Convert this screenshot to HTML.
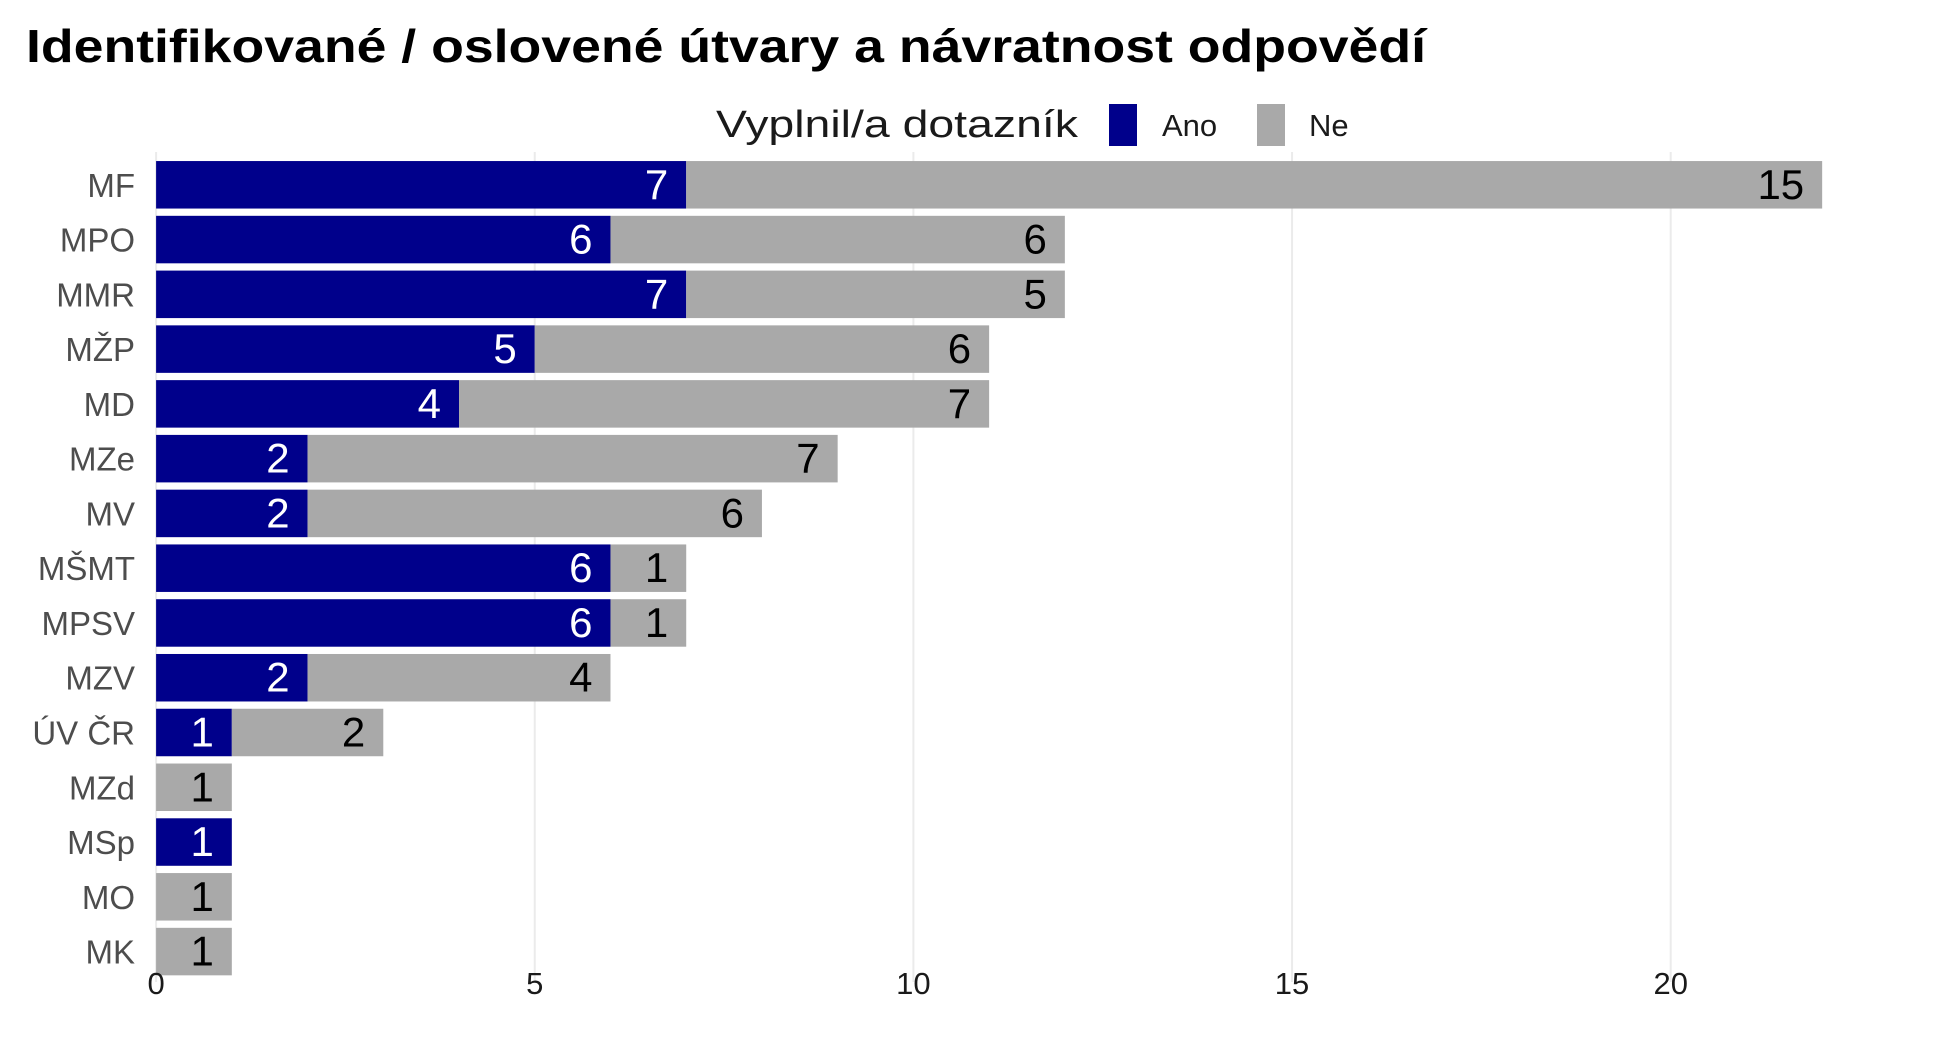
<!DOCTYPE html>
<html><head><meta charset="utf-8"><style>
body{margin:0;background:#fff;}
svg{display:block;font-family:"Liberation Sans",sans-serif;}
</style></head><body>
<svg id="chart" width="1948" height="1062" viewBox="0 0 1948 1062">
<text x="26" y="62" font-size="46" font-weight="bold" fill="#000" textLength="1400" lengthAdjust="spacingAndGlyphs">Identifikované / oslovené útvary a návratnost odpovědí</text>
<g>
<text x="716" y="137" font-size="38" fill="#1a1a1a" textLength="362" lengthAdjust="spacingAndGlyphs">Vyplnil/a dotazník</text>
<rect x="1109" y="104" width="28" height="42" fill="#00008b"/>
<text x="1162" y="136" font-size="31" fill="#1a1a1a">Ano</text>
<rect x="1257" y="104" width="28" height="42" fill="#a9a9a9"/>
<text x="1309" y="136" font-size="31" fill="#1a1a1a">Ne</text>
</g>
<g id="grid"></g><g id="bars"></g><g id="labels"></g>
</svg>
<script>
const categories=["MF","MPO","MMR","MŽP","MD","MZe","MV","MŠMT","MPSV","MZV","ÚV ČR","MZd","MSp","MO","MK"];
const anoValues=[7,6,7,5,4,2,2,6,6,2,1,0,1,0,0];
const neValues=[15,6,5,6,7,7,6,1,1,4,2,1,0,1,1];
const xTicks=[0,5,10,15,20];
const NS="http://www.w3.org/2000/svg";
const x=v=>156.1+v*75.73;
const yC=i=>184.8+i*54.77;
const bh=47.5;
function mk(tag,attrs,parent,text){const e=document.createElementNS(NS,tag);for(const k in attrs)e.setAttribute(k,attrs[k]);if(text!==undefined)e.textContent=text;document.getElementById(parent).appendChild(e);return e;}
xTicks.forEach(t=>{
 const l=mk('line',{x1:x(t),x2:x(t),y1:152,y2:982,stroke:'#ebebeb','stroke-width':2},'grid');
 
 
 const tx=mk('text',{x:x(t),y:994,'font-size':31,'text-anchor':'middle',fill:'#1a1a1a'},'labels',String(t));
 
 
});
categories.forEach((c,i)=>{
 const cy=yC(i);
 const yl=mk('text',{x:135,y:cy+12,'font-size':33,'text-anchor':'end',fill:'#4d4d4d'},'labels',c);
 
 
 const a=anoValues[i],n=neValues[i];
 if(a>0){
  const r=mk('rect',{x:x(0),y:cy-bh/2,width:x(a)-x(0),height:bh,fill:'#00008b'},'bars');
  
  
  const t=mk('text',{x:x(a)-18,y:cy+14,'font-size':42,'text-anchor':'end',fill:'#fff'},'labels',String(a));
  
  
 }
 if(n>0){
  const r=mk('rect',{x:x(a),y:cy-bh/2,width:x(a+n)-x(a),height:bh,fill:'#a9a9a9'},'bars');
  
  
  const t=mk('text',{x:x(a+n)-18,y:cy+14,'font-size':42,'text-anchor':'end',fill:'#000'},'labels',String(n));
  
  
 }
});
</script>
</body></html>
